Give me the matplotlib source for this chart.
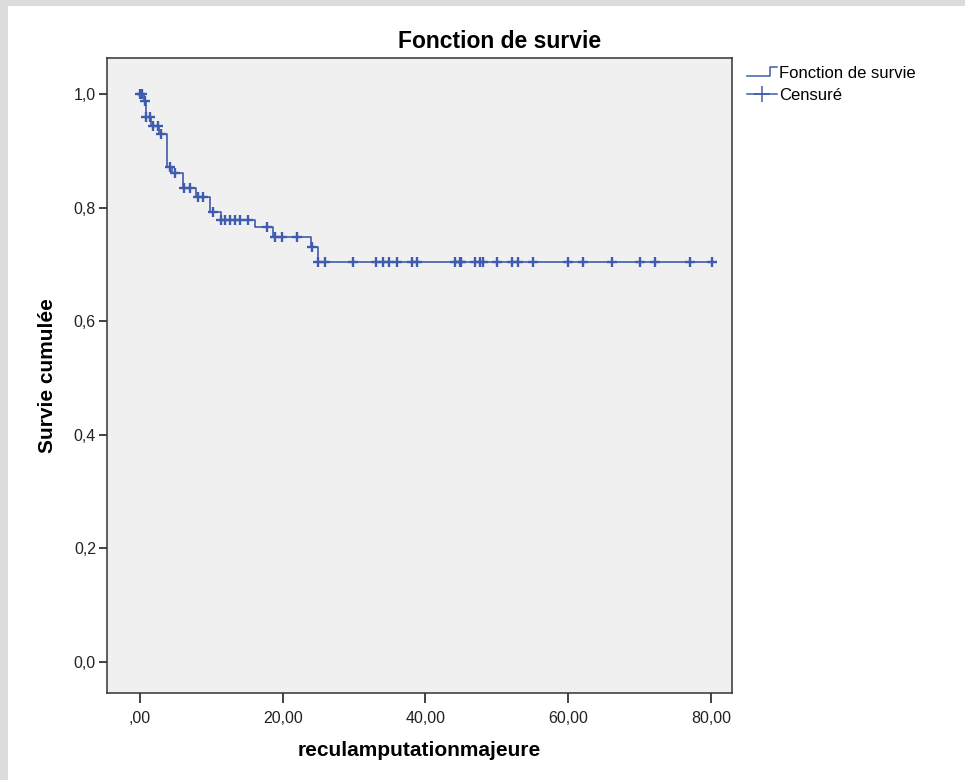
import numpy as np
import matplotlib
matplotlib.use("Agg")
import matplotlib.pyplot as plt
from matplotlib.lines import Line2D
from matplotlib.patches import Rectangle
from matplotlib.legend_handler import HandlerBase

plt.rcParams["font.family"] = ["Liberation Sans", "DejaVu Sans"]

# Kaplan-Meier steps: time of each drop and survival level after it
event_times = [0.0, 0.6, 0.8, 1.6, 2.7, 3.8, 4.5, 6.0, 7.8, 9.8, 11.3, 16.1, 18.7, 24.0, 24.9]
surv_levels = [1.000, 0.988, 0.960, 0.944, 0.930, 0.871, 0.861, 0.835, 0.819,
               0.792, 0.778, 0.766, 0.748, 0.731, 0.704]

# censored observations (months)
censored = [0.0, 0.3, 0.7, 0.9, 1.4, 1.8, 2.5, 2.9, 4.2, 4.9, 6.2, 7.0, 8.1, 8.8,
            10.3, 11.4, 11.9, 12.6, 13.3, 14.0, 15.2, 17.8, 18.9, 19.9, 22.0, 24.1,
            25.0, 25.9, 29.9, 33.1, 34.0, 34.9, 36.0, 38.1, 38.8, 44.1, 44.8, 45.0,
            46.9, 47.6, 48.0, 50.0, 52.1, 53.0, 55.1, 60.0, 62.1, 66.1, 70.0, 72.1,
            77.0, 80.1]

x_ticks = [0, 20, 40, 60, 80]
x_tick_labels = [",00", "20,00", "40,00", "60,00", "80,00"]
y_ticks = [0.0, 0.2, 0.4, 0.6, 0.8, 1.0]
y_tick_labels = ["0,0", "0,2", "0,4", "0,6", "0,8", "1,0"]

BLUE = "#3f5bad"


class StepHandler(HandlerBase):
    """Little step glyph for the survival-function legend entry."""
    def create_artists(self, legend, orig, xd, yd, w, h, fontsize, trans):
        xs = [-xd, -xd + 0.75 * w, -xd + 0.75 * w, -xd + w]
        ys = [-yd + 0.15 * h, -yd + 0.15 * h, -yd + 0.95 * h, -yd + 0.95 * h]
        ln = Line2D(xs, ys, color=BLUE, lw=1.1, transform=trans)
        return [ln]


def main():
    fig = plt.figure(figsize=(9.65, 7.8), dpi=100)
    fig.patch.set_facecolor("#dcdcdc")
    fig.add_artist(Rectangle((8 / 965, 0), 1, 1 - 6 / 780, transform=fig.transFigure,
                             facecolor="white", edgecolor="none", zorder=-1))

    ax = fig.add_axes([107 / 965, 1 - 693 / 780, 625 / 965, 635 / 780])
    ax.set_facecolor("#f0f0f0")

    # step curve, extended to the last follow-up time
    xs = np.append(event_times, max(censored))
    ys = np.append(surv_levels, surv_levels[-1])
    ax.step(xs, ys, where="post", color=BLUE, lw=1.2)

    idx = np.searchsorted(event_times, censored, side="right") - 1
    cens_y = np.array(surv_levels)[idx]
    ax.plot(censored, cens_y, ls="none", marker="+", ms=7.5, mew=1.7, color=BLUE)

    ax.set_xlim(-4.62, 82.94)
    ax.set_ylim(-0.0546, 1.0634)
    ax.set_xticks(x_ticks)
    ax.set_xticklabels(x_tick_labels)
    ax.set_yticks(y_ticks)
    ax.set_yticklabels(y_tick_labels)
    ax.tick_params(axis="x", length=7, width=1.2, labelsize=11.5, pad=6, colors="#222222")
    ax.tick_params(axis="y", length=6, width=1.2, labelsize=11.5, pad=2, colors="#222222")
    for s in ax.spines.values():
        s.set_color("#333333")
        s.set_linewidth(1.1)

    ax.set_xlabel("reculamputationmajeure", fontsize=15, fontweight="bold", labelpad=11)
    ax.set_ylabel("Survie cumulée", fontsize=15, fontweight="bold", labelpad=12)
    fig.text(500 / 965, 1 - 42 / 780, "Fonction de survie", ha="center", va="center",
             fontsize=16.5, fontweight="bold")

    h_step = Line2D([], [], color=BLUE, lw=1.1)
    h_cens = Line2D([], [], color=BLUE, lw=1.1, marker="+", ms=11, mew=1.1)
    fig.legend([h_step, h_cens], ["Fonction de survie", "Censuré"],
               handler_map={h_step: StepHandler()},
               loc="upper left", bbox_to_anchor=(747 / 965, 1 - 66 / 780),
               frameon=False, fontsize=12, handlelength=1.8, handletextpad=0.1,
               labelspacing=0.4, borderaxespad=0, borderpad=0)

    fig.savefig("out.png", dpi=100, facecolor=fig.get_facecolor())


if __name__ == "__main__":
    main()
